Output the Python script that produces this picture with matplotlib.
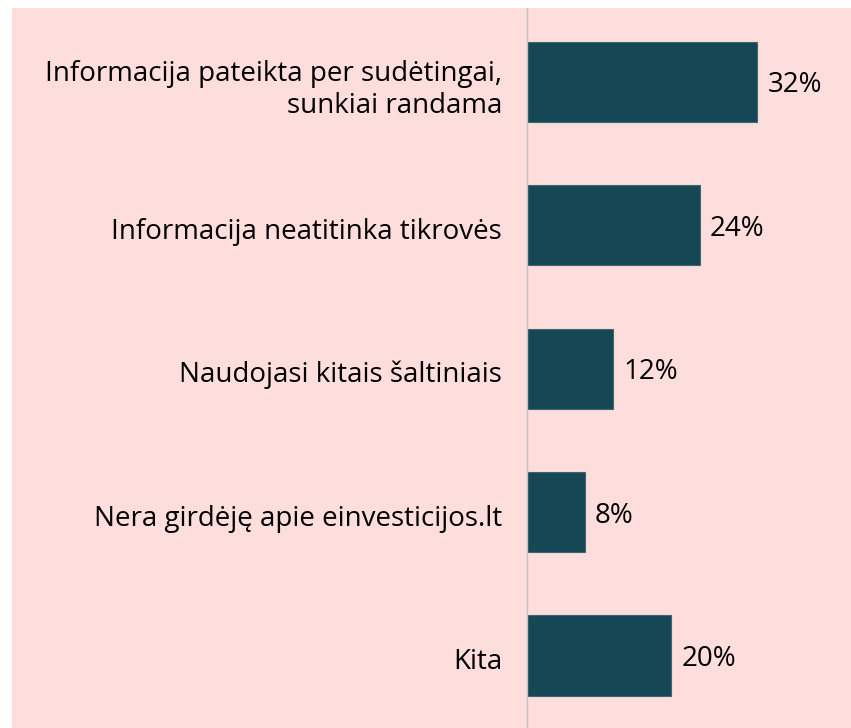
import matplotlib
matplotlib.use("Agg")
import matplotlib.pyplot as plt
from matplotlib.patches import Rectangle
from matplotlib.transforms import ScaledTranslation

categories = [
    "Informacija pateikta per sudėtingai,\nsunkiai randama",
    "Informacija neatitinka tikrovės",
    "Naudojasi kitais šaltiniais",
    "Nera girdėję apie einvesticijos.lt",
    "Kita",
]
values = [32, 24, 12, 8, 20]
value_labels = ["32%", "24%", "12%", "8%", "20%"]

W, H = 851, 728
fig = plt.figure(figsize=(W / 100, H / 100), dpi=100, facecolor="white")
fig.patches.append(Rectangle((12 / W, 0), 1 - 12 / W, (H - 8) / H,
                             transform=fig.transFigure, facecolor="#FDDEDC",
                             edgecolor="none", zorder=-5))

ax = fig.add_axes([527 / W, 0, 1 - 527 / W, (H - 8) / H])
ax.set_zorder(2)
ax.set_facecolor("none")
pos = list(range(len(categories)))
ax.barh(pos, values, height=0.56, color="#154854", edgecolor="#3d6670", linewidth=0.8)
ax.set_ylim(len(categories) - 0.495, -0.515)
ax.set_xlim(0, (W - 527) / 7.19)

font = "Open Sans"
for p, v, lab in zip(pos, values, value_labels):
    ax.annotate(lab, (v, p), xytext=(7.5, -2.5), textcoords="offset points",
                va="center", ha="left", fontsize=20, family=font, color="black")

ax.set_yticks(pos)
ax.set_yticklabels(categories, fontsize=20, family=font, ha="right", linespacing=1.15)
ax.tick_params(axis="y", length=0, pad=18)
shift = ScaledTranslation(0, -3 / 100, fig.dpi_scale_trans)
for t in ax.get_yticklabels():
    t.set_transform(t.get_transform() + shift)
ax.set_xticks([])
for s in ["top", "right", "bottom"]:
    ax.spines[s].set_visible(False)
ax.spines["left"].set_color("#BFC3C6")
ax.spines["left"].set_linewidth(1.0)

fig.savefig("out.png", dpi=100, facecolor="white")
